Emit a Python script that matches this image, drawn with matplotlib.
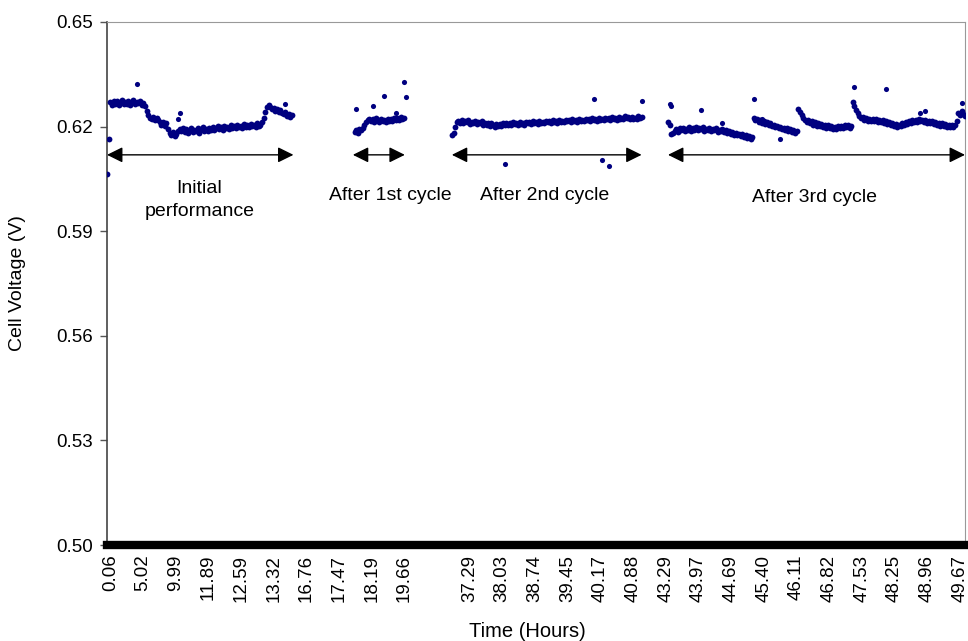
import numpy as np
import matplotlib
matplotlib.use('Agg')
import matplotlib.pyplot as plt

plt.rcParams['font.family'] = ['Liberation Sans', 'DejaVu Sans']

# Etiquetas do eixo x (uma etiqueta a cada ~20 pontos, a 11a fica em branco)
tick_labels = ['0.06', '5.02', '9.99', '11.89', '12.59', '13.32', '16.76', '17.47',
               '18.19', '19.66', '', '37.29', '38.03', '38.74', '39.45', '40.17',
               '40.88', '43.29', '43.97', '44.69', '45.40', '46.11', '46.82',
               '47.53', '48.25', '48.96', '49.67']
n_points = 520

# Desempenho inicial (pontos 0..112)
initial_start = 0
initial_v = [0.6065, 0.6165,
             0.6270, 0.6263, 0.6274, 0.6266, 0.6272, 0.6261, 0.6269, 0.6275, 0.6264, 0.6271,
             0.6266, 0.6273, 0.6262, 0.6270, 0.6276, 0.6265, 0.6271, 0.6268, 0.6274, 0.6263,
             0.6269,
             0.6258, 0.6246, 0.6232, 0.6226,
             0.6221, 0.6227, 0.6219, 0.6224, 0.6218,
             0.6212, 0.6206, 0.6214, 0.6203, 0.6209,
             0.6192, 0.6183, 0.6176, 0.6184, 0.6172, 0.6179, 0.6186,
             0.6193, 0.6188, 0.6197,
             0.6185, 0.6194, 0.6182, 0.6190, 0.6196, 0.6184, 0.6191, 0.6187, 0.6195, 0.6183,
             0.6192, 0.6198, 0.6188, 0.6194, 0.6186, 0.6197, 0.6191, 0.6199, 0.6189, 0.6195,
             0.6201, 0.6192, 0.6198, 0.6190, 0.6203, 0.6196, 0.6200, 0.6193, 0.6205, 0.6197,
             0.6202, 0.6195, 0.6206, 0.6199, 0.6203, 0.6196, 0.6207, 0.6200, 0.6204, 0.6198,
             0.6208, 0.6201, 0.6205, 0.6199, 0.6209, 0.6203, 0.6206, 0.6212,
             0.6225, 0.6242, 0.6255, 0.6261, 0.6256, 0.6250, 0.6254, 0.6246, 0.6251, 0.6243,
             0.6249, 0.6240, 0.6236, 0.6242, 0.6231, 0.6237, 0.6227, 0.6232]

# Apos 1o ciclo (pontos 150..180)
cycle1_start = 150
cycle1_v = [0.6185, 0.6191, 0.6182, 0.6194, 0.6189, 0.6197, 0.6204, 0.6212, 0.6218, 0.6223,
            0.6216, 0.6221, 0.6214, 0.6224, 0.6218, 0.6213, 0.6222, 0.6216, 0.6220, 0.6214,
            0.6223, 0.6217, 0.6221, 0.6215, 0.6224, 0.6219, 0.6226, 0.6220, 0.6228, 0.6222,
            0.6226]

# Apos 2o ciclo (pontos 209..324)
cycle2_start = 209
cycle2_v = [0.6176, 0.6183, 0.6199, 0.6212, 0.6217,
            0.6211, 0.6218, 0.6209, 0.6215, 0.6212, 0.6219, 0.6208, 0.6214, 0.6210, 0.6216,
            0.6207, 0.6213, 0.6209, 0.6215, 0.6206, 0.6211, 0.6204, 0.6210, 0.6203, 0.6209,
            0.6205, 0.6200, 0.6207, 0.6202,
            0.6208, 0.6203, 0.6210, 0.6205, 0.6211, 0.6206, 0.6209, 0.6204, 0.6212, 0.6207,
            0.6210, 0.6205, 0.6213, 0.6208, 0.6211, 0.6206, 0.6214, 0.6209, 0.6212, 0.6207,
            0.6215, 0.6210, 0.6213, 0.6208, 0.6216, 0.6211, 0.6214, 0.6209, 0.6217, 0.6212,
            0.6215, 0.6210, 0.6218, 0.6213, 0.6216, 0.6211, 0.6219, 0.6214, 0.6217, 0.6212,
            0.6220, 0.6215, 0.6218, 0.6213, 0.6221, 0.6216, 0.6219, 0.6214, 0.6222, 0.6217,
            0.6220, 0.6215, 0.6223, 0.6218, 0.6221, 0.6216, 0.6224, 0.6219, 0.6222, 0.6217,
            0.6225, 0.6220, 0.6223, 0.6218, 0.6226, 0.6221, 0.6224, 0.6219, 0.6227, 0.6222,
            0.6225, 0.6220, 0.6228, 0.6223, 0.6226, 0.6221, 0.6229, 0.6224, 0.6227, 0.6222,
            0.6228, 0.6223, 0.6226, 0.6221, 0.6229, 0.6224, 0.6227]

# Apos 3o ciclo (pontos 340..520)
cycle3_start = 340
cycle3_v = [0.6212, 0.6205, 0.6178, 0.6183,
            0.6186, 0.6192, 0.6184, 0.6195, 0.6189, 0.6197, 0.6187, 0.6194, 0.6190, 0.6198,
            0.6188, 0.6196, 0.6191, 0.6199, 0.6189, 0.6195, 0.6192, 0.6198, 0.6188, 0.6194,
            0.6190, 0.6197, 0.6187, 0.6193, 0.6189, 0.6195, 0.6185, 0.6191, 0.6187, 0.6193,
            0.6184, 0.6189,
            0.6183, 0.6188, 0.6180, 0.6185, 0.6177, 0.6183, 0.6175, 0.6180, 0.6172, 0.6178,
            0.6170, 0.6176, 0.6168, 0.6173, 0.6165, 0.6170,
            0.6226, 0.6219, 0.6223, 0.6214, 0.6219, 0.6210, 0.6215, 0.6207, 0.6212, 0.6204,
            0.6209, 0.6201, 0.6206, 0.6198, 0.6203, 0.6195, 0.6200, 0.6192, 0.6197, 0.6189,
            0.6195, 0.6187, 0.6193, 0.6185, 0.6190, 0.6183, 0.6188,
            0.6250, 0.6242, 0.6234, 0.6226, 0.6220, 0.6214, 0.6219, 0.6209, 0.6215, 0.6206,
            0.6212, 0.6203, 0.6210, 0.6201, 0.6208, 0.6199, 0.6206, 0.6197, 0.6204, 0.6195,
            0.6202, 0.6194, 0.6200, 0.6193, 0.6201, 0.6195, 0.6203, 0.6197, 0.6205, 0.6198,
            0.6204, 0.6196, 0.6202,
            0.6270, 0.6258, 0.6247, 0.6238, 0.6230, 0.6224, 0.6228, 0.6219, 0.6225, 0.6217,
            0.6223, 0.6216, 0.6222, 0.6215, 0.6221, 0.6214, 0.6220, 0.6212, 0.6218, 0.6210,
            0.6216, 0.6208, 0.6213, 0.6204, 0.6210, 0.6201, 0.6207, 0.6200, 0.6206, 0.6202,
            0.6209, 0.6205, 0.6212, 0.6208, 0.6215, 0.6210, 0.6218, 0.6212, 0.6220, 0.6214,
            0.6221, 0.6215, 0.6220, 0.6213, 0.6218, 0.6211, 0.6217, 0.6209, 0.6215, 0.6207,
            0.6213, 0.6205, 0.6211, 0.6203, 0.6209, 0.6201, 0.6207, 0.6200, 0.6205, 0.6198,
            0.6204, 0.6199,
            0.6206, 0.6215, 0.6240, 0.6232, 0.6245, 0.6236, 0.6230]

# Pontos isolados (indice, tensao)
outlier_idx = [18, 43, 44, 108,
               151, 161, 168, 175, 180, 181,
               241, 295, 300, 304, 324,
               341, 342, 360, 373, 392, 397, 408, 453, 472, 493, 496, 518]
outlier_v = [0.6322, 0.6222, 0.6240, 0.6265,
             0.6250, 0.6259, 0.6288, 0.6239, 0.6328, 0.6285,
             0.6093, 0.6280, 0.6104, 0.6088, 0.6273,
             0.6265, 0.6258, 0.6248, 0.6210, 0.6280, 0.6222, 0.6164, 0.6313, 0.6308, 0.6239,
             0.6245, 0.6268]

# Setas e textos das fases
arrow_y = 0.6119
arrows = [(0, 113), (149, 180.5), (209, 324), (340, 520)]
labels = [('Initial\nperformance', 56, 0.5990),
          ('After 1st cycle', 172, 0.6001),
          ('After 2nd cycle', 265.5, 0.6001),
          ('After 3rd cycle', 428.5, 0.5998)]

fig = plt.figure(figsize=(9.68, 6.41), dpi=100)
ax = fig.add_axes([107/968, 1 - 545/641, 858/968, 523/641])

navy = '#000080'
for start, vals in [(initial_start, initial_v), (cycle1_start, cycle1_v),
                    (cycle2_start, cycle2_v), (cycle3_start, cycle3_v)]:
    idx = np.arange(start, start + len(vals))
    ax.plot(idx, vals, 'o', color=navy, markersize=4.2, markeredgewidth=0, zorder=3)
ax.plot(outlier_idx, outlier_v, 'o', color=navy, markersize=3.7, markeredgewidth=0, zorder=3)

for x0, x1 in arrows:
    ax.annotate('', xy=(x1, arrow_y), xytext=(x0, arrow_y),
                arrowprops=dict(arrowstyle='<|-|>,head_length=0.95,head_width=0.47',
                                mutation_scale=10, color='black', lw=1.0,
                                shrinkA=0, shrinkB=0), zorder=4)

for txt, x, y in labels:
    ax.text(x, y, txt, ha='center', va='center', fontsize=14, linespacing=1.45)

ax.set_xlim(0, n_points)
ax.set_ylim(0.50, 0.65)
yticks = [0.50, 0.53, 0.56, 0.59, 0.62, 0.65]
ax.set_yticks(yticks)
ax.set_yticklabels(['%.2f' % v for v in yticks])
ax.set_xticks(2 + 19.8 * np.arange(len(tick_labels)))
ax.set_xticklabels(tick_labels, rotation=90)

ax.tick_params(axis='y', direction='out', length=5, width=1, color='#555555',
               labelsize=13.5, pad=5)
ax.tick_params(axis='x', length=0, labelsize=13.5, pad=7)

ax.spines['left'].set_color('#444444')
ax.spines['left'].set_linewidth(1.2)
ax.spines['top'].set_color('#999999')
ax.spines['right'].set_color('#999999')
ax.spines['bottom'].set_color('black')
ax.spines['bottom'].set_linewidth(6)

ax.set_xlabel('Time (Hours)', fontsize=14.5)
ax.set_ylabel('Cell Voltage (V)', fontsize=14)
ax.xaxis.set_label_coords(0.4895, -0.147)
ax.yaxis.set_label_coords(-0.0944, 0.5)

plt.savefig('out.png', dpi=100)
